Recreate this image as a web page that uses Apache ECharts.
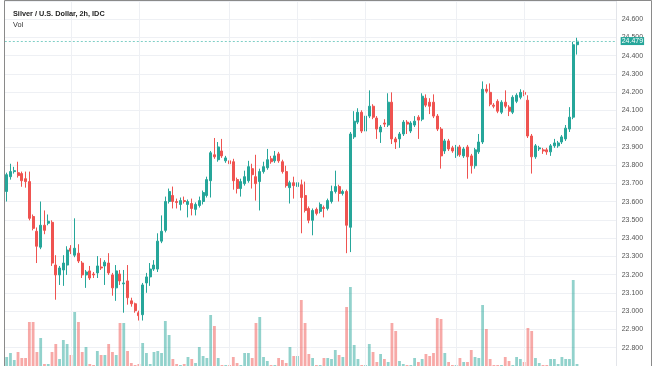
<!DOCTYPE html>
<html>
<head>
<meta charset="utf-8">
<script src="https://cdn.jsdelivr.net/npm/echarts/dist/echarts.min.js"></script>
<style>
html,body{margin:0;padding:0;background:#fff;}
#chart{width:654px;height:366px;}
</style>
</head>
<body>
<div id="chart"></div>
<script>
// ---- data ----
const titleText = 'Silver / U.S. Dollar, 2h, IDC';
const volLabel = 'Vol';
const lastPrice = 24.479;
const opens = [
23.656,23.737,23.765,23.759,23.754,23.726,23.710,23.519,23.438,23.351,
23.471,23.482,23.487,23.253,23.199,23.226,23.253,23.345,23.307,23.318,
23.264,23.199,23.221,23.204,23.210,23.242,23.248,23.264,23.199,23.128,
23.204,23.150,23.166,23.057,23.041,22.992,22.981,23.155,23.188,23.231,
23.231,23.384,23.443,23.601,23.634,23.601,23.585,23.606,23.585,23.590,
23.558,23.579,23.601,23.634,23.715,23.857,23.830,23.878,23.824,23.824,
23.819,23.721,23.672,23.699,23.715,23.781,23.737,23.710,23.765,23.786,
23.835,23.824,23.862,23.819,23.765,23.677,23.704,23.683,23.693,23.634,
23.563,23.498,23.558,23.547,23.568,23.563,23.601,23.656,23.683,23.645,
23.656,23.460,23.955,24.036,24.090,23.987,24.069,24.123,24.058,23.982,
24.031,24.020,24.145,23.944,23.944,23.971,24.036,23.987,24.020,24.063,
24.052,24.167,24.145,24.145,24.069,23.998,23.878,23.933,23.895,23.851,
23.900,23.851,23.900,23.851,23.797,23.873,23.927,24.216,24.199,24.129,
24.150,24.090,24.145,24.118,24.090,24.150,24.172,24.199,24.156,23.960,
23.846,23.889,23.884,23.884,23.873,23.906,23.906,23.927,23.944,23.998,
24.063,24.460];
const closes = [
23.748,23.765,23.770,23.743,23.715,23.710,23.509,23.454,23.356,23.471,
23.443,23.493,23.264,23.199,23.237,23.264,23.335,23.329,23.345,23.275,
23.199,23.215,23.182,23.199,23.248,23.237,23.269,23.210,23.128,23.221,
23.166,23.155,23.074,23.041,23.003,22.976,23.144,23.188,23.231,23.253,
23.384,23.438,23.601,23.656,23.601,23.596,23.606,23.601,23.601,23.563,
23.585,23.606,23.650,23.721,23.868,23.846,23.900,23.851,23.840,23.808,
23.715,23.672,23.710,23.737,23.792,23.748,23.699,23.765,23.792,23.830,
23.819,23.851,23.824,23.765,23.688,23.704,23.688,23.704,23.623,23.552,
23.498,23.552,23.536,23.585,23.563,23.606,23.656,23.683,23.645,23.656,
23.471,23.971,24.041,24.090,23.987,24.069,24.123,24.063,23.998,24.009,
24.025,24.145,23.944,23.927,23.971,24.036,24.025,24.031,24.041,24.047,
24.178,24.129,24.123,24.069,23.998,23.851,23.933,23.889,23.878,23.900,
23.857,23.889,23.846,23.797,23.884,23.927,24.216,24.205,24.134,24.123,
24.096,24.145,24.123,24.096,24.172,24.183,24.199,24.188,23.960,23.846,
23.906,23.895,23.878,23.873,23.906,23.922,23.922,23.955,24.003,24.063,
24.460,24.479];
const lows = [
23.601,23.721,23.754,23.732,23.682,23.677,23.498,23.443,23.264,23.340,
23.422,23.471,23.248,23.063,23.144,23.139,23.199,23.313,23.296,23.264,
23.182,23.128,23.171,23.182,23.182,23.226,23.144,23.199,23.085,23.057,
23.144,22.992,23.036,23.025,22.992,22.949,22.949,23.101,23.139,23.221,
23.215,23.373,23.432,23.590,23.563,23.563,23.552,23.590,23.514,23.525,
23.525,23.568,23.585,23.623,23.623,23.835,23.819,23.840,23.813,23.797,
23.666,23.645,23.628,23.688,23.704,23.672,23.606,23.552,23.754,23.775,
23.808,23.813,23.813,23.754,23.677,23.590,23.617,23.672,23.427,23.541,
23.482,23.416,23.525,23.536,23.514,23.552,23.590,23.645,23.601,23.634,
23.318,23.324,23.944,24.025,23.976,23.976,24.058,24.052,23.944,23.922,
24.009,24.009,23.916,23.889,23.895,23.960,23.971,23.976,24.009,23.944,
24.041,24.118,24.080,24.058,23.987,23.781,23.862,23.878,23.868,23.840,
23.846,23.840,23.726,23.754,23.781,23.862,23.916,24.194,24.123,24.112,
24.085,24.080,24.112,24.069,24.080,24.140,24.161,24.178,23.949,23.754,
23.835,23.878,23.862,23.857,23.851,23.895,23.895,23.916,23.933,23.982,
24.052,24.406];
const highs = [
23.759,23.808,23.791,23.819,23.765,23.765,23.765,23.530,23.459,23.601,
23.552,23.530,23.498,23.307,23.248,23.307,23.356,23.362,23.509,23.367,
23.275,23.226,23.248,23.215,23.302,23.291,23.280,23.318,23.210,23.253,
23.226,23.226,23.253,23.074,23.047,23.003,23.155,23.210,23.264,23.280,
23.427,23.525,23.628,23.672,23.683,23.617,23.623,23.628,23.612,23.617,
23.596,23.628,23.661,23.737,23.878,23.949,23.927,23.944,23.851,23.846,
23.835,23.732,23.726,23.770,23.824,23.808,23.857,23.781,23.819,23.889,
23.851,23.878,23.873,23.830,23.797,23.715,23.737,23.715,23.721,23.710,
23.574,23.563,23.568,23.596,23.579,23.617,23.688,23.770,23.693,23.666,
23.666,23.982,24.096,24.112,24.101,24.118,24.210,24.134,24.069,24.020,
24.052,24.194,24.199,23.955,23.982,24.047,24.047,24.041,24.069,24.074,
24.194,24.188,24.167,24.188,24.080,24.009,23.944,23.944,23.906,23.911,
23.911,23.900,23.911,23.862,23.895,23.971,24.259,24.243,24.248,24.140,
24.161,24.156,24.210,24.129,24.183,24.194,24.216,24.210,24.183,23.971,
23.916,23.906,23.895,23.895,23.916,23.944,23.933,23.965,24.020,24.118,
24.476,24.498];
const volumes = [
9,13,6,14,8,8,44,44,14,28,
2,2,14,22,7,26,22,11,54,44,
14,19,2,1,15,11,11,22,14,11,
43,43,15,3,1,2,23,13,2,14,
15,13,45,31,7,2,1,2,9,7,
3,19,10,8,51,40,8,1,1,1,
9,3,1,13,13,8,43,49,9,5,
1,1,8,6,3,19,10,10,66,43,
12,8,1,1,8,8,7,16,11,9,
59,79,21,7,1,1,22,14,4,12,
7,4,43,35,5,2,1,1,8,4,
7,12,10,13,48,47,13,4,1,1,
8,4,4,16,9,8,61,37,7,1,
1,1,9,5,1,9,7,4,38,35,
8,3,1,1,7,7,2,9,7,7,
86,2];
// session separators (bar index)
const sessionBreaks = [17, 35, 59, 77, 95, 119, 137];
const emptyBarsRight = 10;
const priceTicks = {min: 22.7, max: 24.7, step: 0.1};

// ---- build ----
const nBars = opens.length + emptyBarsRight;
const categories = Array.from({length: nBars}, (_, i) => String(i));
const UP = '#26a69a', DOWN = '#ef5350';
const candleData = opens.map((o, i) => [o, closes[i], lows[i], highs[i]]);
const volData = volumes.map((v, i) => ({
  value: v,
  itemStyle: {color: closes[i] >= opens[i] ? 'rgba(38,166,154,0.5)' : 'rgba(239,83,80,0.5)'}
}));

const barW = 3.777;
const gridLeft = 4.8;
const gridWidth = nBars * barW;

const chart = echarts.init(document.getElementById('chart'), null, {renderer: 'canvas'});
const gridLineColor = '#eef0f4';
const vLines = {
  silent: true, symbol: ['none', 'none'], label: {show: false},
  lineStyle: {color: gridLineColor, width: 1, type: 'solid'},
  emphasis: {disabled: true},
  data: sessionBreaks.map(k => ({xAxis: k}))
};
chart.setOption({
  animation: false,
  backgroundColor: '#ffffff',
  title: [
    {text: titleText, left: 8, top: 5, textStyle: {fontSize: 7.3, fontWeight: 'bold', color: '#222', fontFamily: 'Liberation Sans'}},
    {text: volLabel, left: 8, top: 16, textStyle: {fontSize: 7.3, fontWeight: 'normal', color: '#333', fontFamily: 'Liberation Sans'}}
  ],
  grid: [
    {left: gridLeft, top: 0.9, width: gridWidth, height: 367.8},
    {left: gridLeft, top: 266, width: gridWidth, height: 100}
  ],
  xAxis: [
    {type: 'category', gridIndex: 0, data: categories, boundaryGap: true, show: false},
    {type: 'category', gridIndex: 1, data: categories, boundaryGap: true, show: false}
  ],
  yAxis: [
    {type: 'value', gridIndex: 0, position: 'right', min: priceTicks.min, max: priceTicks.max, interval: priceTicks.step,
     axisLine: {show: true, lineStyle: {color: '#e3e5ea'}}, axisTick: {show: false},
     splitLine: {show: true, lineStyle: {color: gridLineColor, width: 1}},
     axisLabel: {showMinLabel: false, showMaxLabel: false, margin: 5, fontSize: 7, color: '#555', fontFamily: 'Liberation Sans',
       formatter: v => v.toFixed(3)}},
    {type: 'value', gridIndex: 1, min: 0, max: 100, show: false, splitLine: {show: false}}
  ],
  series: [
    {type: 'line', xAxisIndex: 0, yAxisIndex: 0, data: [], z: 0, markLine: vLines},
    {type: 'bar', xAxisIndex: 1, yAxisIndex: 1, data: volData, barWidth: 2.8, z: 1},
    {type: 'candlestick', xAxisIndex: 0, yAxisIndex: 0, data: candleData, barWidth: 2.5, z: 3,
     itemStyle: {color: UP, color0: DOWN, borderColor: UP, borderColor0: DOWN, borderWidth: 1},
     markLine: {
       silent: true, symbol: ['none', 'none'],
       lineStyle: {color: '#7fcfc6', type: [2, 2], width: 1, opacity: 1},
       label: {show: true, position: 'end', distance: 4, formatter: () => lastPrice.toFixed(3),
         backgroundColor: UP, color: '#fff', fontSize: 7, padding: [1, 1, 0, 1], fontFamily: 'Liberation Sans'},
       data: [{yAxis: lastPrice}]
     }}
  ],
  graphic: [
    {type: 'rect', shape: {x: 4.5, y: 0.5, width: 647, height: 380}, style: {fill: 'none', stroke: '#8a8a8a', lineWidth: 1}, z: 100}
  ]
});
</script>
</body>
</html>
